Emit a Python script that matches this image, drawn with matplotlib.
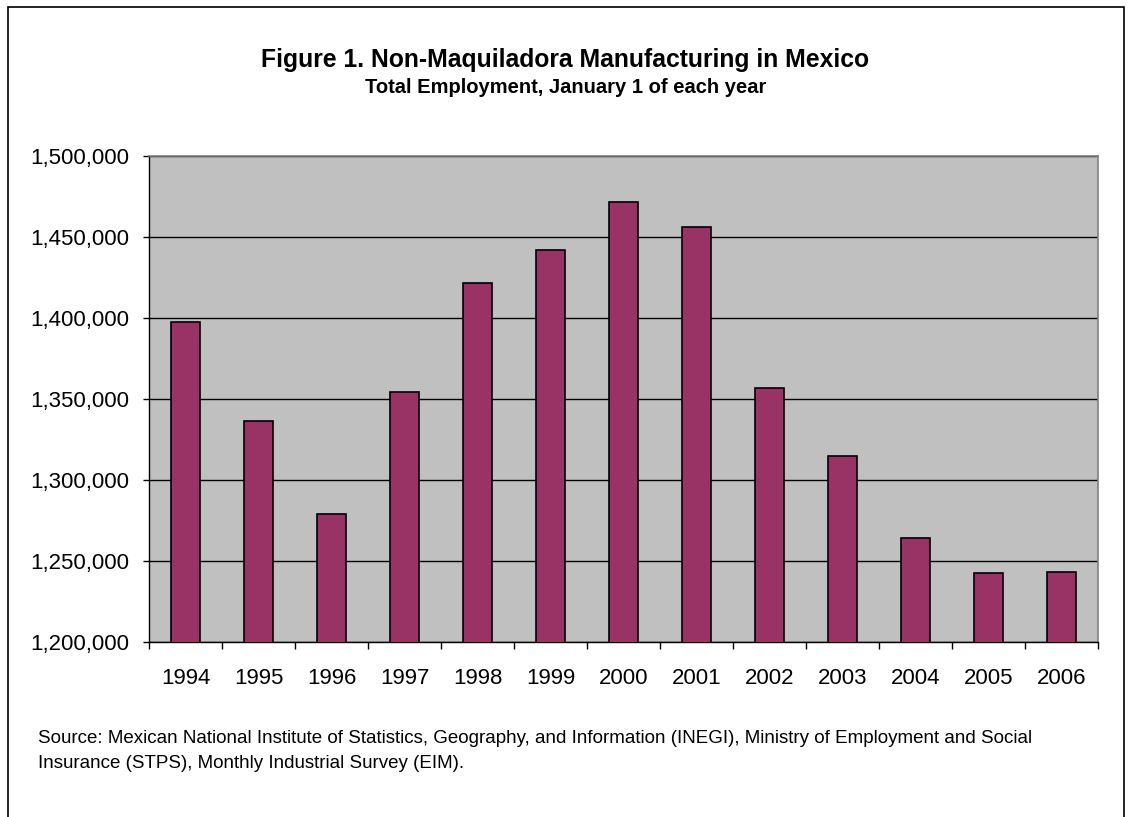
import matplotlib
matplotlib.use("Agg")
import matplotlib.pyplot as plt
import numpy as np
from matplotlib.patches import Rectangle
from matplotlib.ticker import FuncFormatter

years = ["1994", "1995", "1996", "1997", "1998", "1999", "2000",
         "2001", "2002", "2003", "2004", "2005", "2006"]
employment = [1397100, 1336300, 1278700, 1354000, 1421200, 1442100, 1471700,
              1455900, 1356600, 1314600, 1264000, 1242400, 1243200]
y_ticks = [1200000, 1250000, 1300000, 1350000, 1400000, 1450000, 1500000]

plt.rcParams["font.family"] = ["Liberation Sans", "DejaVu Sans"]

fig = plt.figure(figsize=(11.31, 8.17), dpi=100)
ax = fig.add_axes([0.1317, 0.2146, 0.8391, 0.5948])

x = np.arange(len(years))
ax.set_facecolor("#C0C0C0")
ax.bar(x, employment, width=0.4, color="#993366", edgecolor="black",
       linewidth=1.2, zorder=3)

ax.set_ylim(1200000, 1500000)
ax.set_xlim(-0.5, len(years) - 0.5)
ax.set_yticks(y_ticks)
ax.yaxis.set_major_formatter(FuncFormatter(lambda v, p: f"{int(v):,}"))
ax.grid(axis="y", color="black", linewidth=1.0, zorder=1)

# labels under the bars, ticks on category boundaries
ax.set_xticks(x)
ax.set_xticklabels(years)
ax.set_xticks(np.arange(-0.5, len(years)), minor=True)
ax.tick_params(axis="x", which="major", length=0, pad=19, labelsize=16)
ax.tick_params(axis="x", which="minor", length=5, width=1, color="black")
ax.tick_params(axis="y", length=4.3, width=1, color="black", labelsize=16, pad=10)

for s in ["top", "right"]:
    ax.spines[s].set_color("#808080")
    ax.spines[s].set_linewidth(1.2)
for s in ["left", "bottom"]:
    ax.spines[s].set_color("black")
    ax.spines[s].set_linewidth(1.0)

fig.text(0.5, 0.918, "Figure 1. Non-Maquiladora Manufacturing in Mexico",
         ha="center", va="baseline", fontsize=17.8, fontweight="bold")
fig.text(0.5, 0.8862, "Total Employment, January 1 of each year",
         ha="center", va="baseline", fontsize=14.5, fontweight="bold")

fig.text(0.0336, 0.0906,
         "Source: Mexican National Institute of Statistics, Geography, and Information (INEGI), "
         "Ministry of Employment and Social",
         ha="left", va="baseline", fontsize=13.5)
fig.text(0.0336, 0.06, "Insurance (STPS), Monthly Industrial Survey (EIM).",
         ha="left", va="baseline", fontsize=13.5)

# outer chart frame (bottom edge falls outside the picture)
fig.patches.append(Rectangle((8 / 1131, -0.05), (1124 - 8) / 1131, 1.05 - 7 / 817,
                             transform=fig.transFigure, fill=False,
                             edgecolor="black", linewidth=1.2))

fig.savefig("out.png", dpi=100)
